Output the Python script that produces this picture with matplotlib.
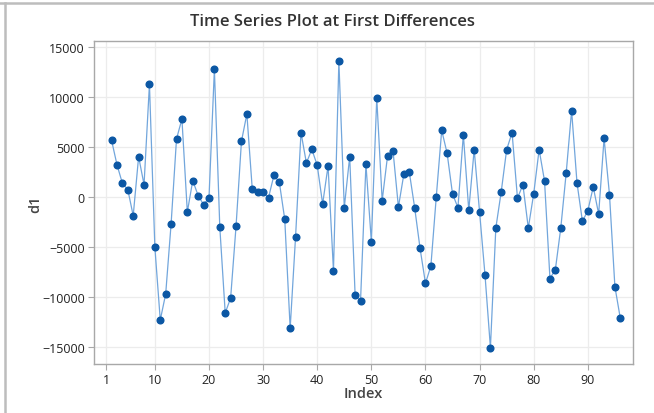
import numpy as np
import matplotlib
matplotlib.use("Agg")
import matplotlib.pyplot as plt
from matplotlib.lines import Line2D

# first differences, index 1 is missing (no previous value)
d1 = [5700, 3260, 1400, 770, -1840, 4060, 1270, 11300, -5000, -12270,
      -9670, -2670, 5830, 7830, -1470, 1670, 170, -730, -70, 12800,
      -3000, -11570, -10070, -2900, 5600, 8330, 800, 530, 500, -30,
      2200, 1500, -2200, -13100, -3930, 6470, 3430, 4800, 3200, -670,
      3130, -7330, 13600, -1030, 4070, -9770, -10400, 3300, -4430, 9930,
      -330, 4170, 4670, -970, 2300, 2570, -1030, -5100, -8600, -6870,
      70, 6700, 4400, 330, -1030, 6270, -1300, 4770, -1500, -7770,
      -15040, -3070, 570, 4770, 6470, -100, 1270, -3070, 370, 4770,
      1630, -8130, -7230, -3070, 2430, 8670, 1430, -2400, -1330, 1030,
      -1670, 5900, 270, -8930, -12100]
index = np.arange(2, 2 + len(d1))
x_ticks = [1, 10, 20, 30, 40, 50, 60, 70, 80, 90]
y_ticks = [-15000, -10000, -5000, 0, 5000, 10000, 15000]

plt.rcParams['font.family'] = ['Open Sans', 'DejaVu Sans']

W, H = 654, 414
fig = plt.figure(figsize=(W / 100, H / 100), dpi=100)
ax = fig.add_axes([93.7 / W, 1 - 365 / H, (633.3 - 93.7) / W, (365 - 42.3) / H])

ax.plot(index, d1, color="#72a6dc", lw=0.9, zorder=2)
ax.plot(index, d1, ls="none", marker="o", ms=4.8, color="#0b57a4", zorder=3)

ax.set_xlim(-1.3, 98.4)
ax.set_ylim(-16670, 15600)
ax.set_xticks(x_ticks)
ax.set_yticks(y_ticks)
ax.grid(True, color="#ececec", lw=0.9)
ax.set_axisbelow(True)
for s in ax.spines.values():
    s.set_color("#a8a8a8")
    s.set_linewidth(1.0)
ax.tick_params(colors="#a8a8a8", labelcolor="#222222", labelsize=9, length=4, width=0.8, pad=2.5)

fig.text(333 / W, 1 - 22.5 / H, "Time Series Plot at First Differences",
         ha="center", va="center", fontsize=12, color="#333333", fontweight="semibold")
fig.text(363 / W, 1 - 394 / H, "Index", ha="center", va="center",
         fontsize=10.5, color="#444444", fontweight="semibold")
fig.text(35.5 / W, 1 - 204 / H, "d1", ha="center", va="center", rotation=90,
         fontsize=10.5, color="#444444", fontweight="semibold")

# outer frame lines (top and left)
fig.add_artist(Line2D([0, 1], [1 - 4 / H, 1 - 4 / H], color="#bdbdbd", lw=1.8))
fig.add_artist(Line2D([5 / W, 5 / W], [0, 1 - 4 / H], color="#bdbdbd", lw=1.8))

fig.savefig("out.png", dpi=100)
